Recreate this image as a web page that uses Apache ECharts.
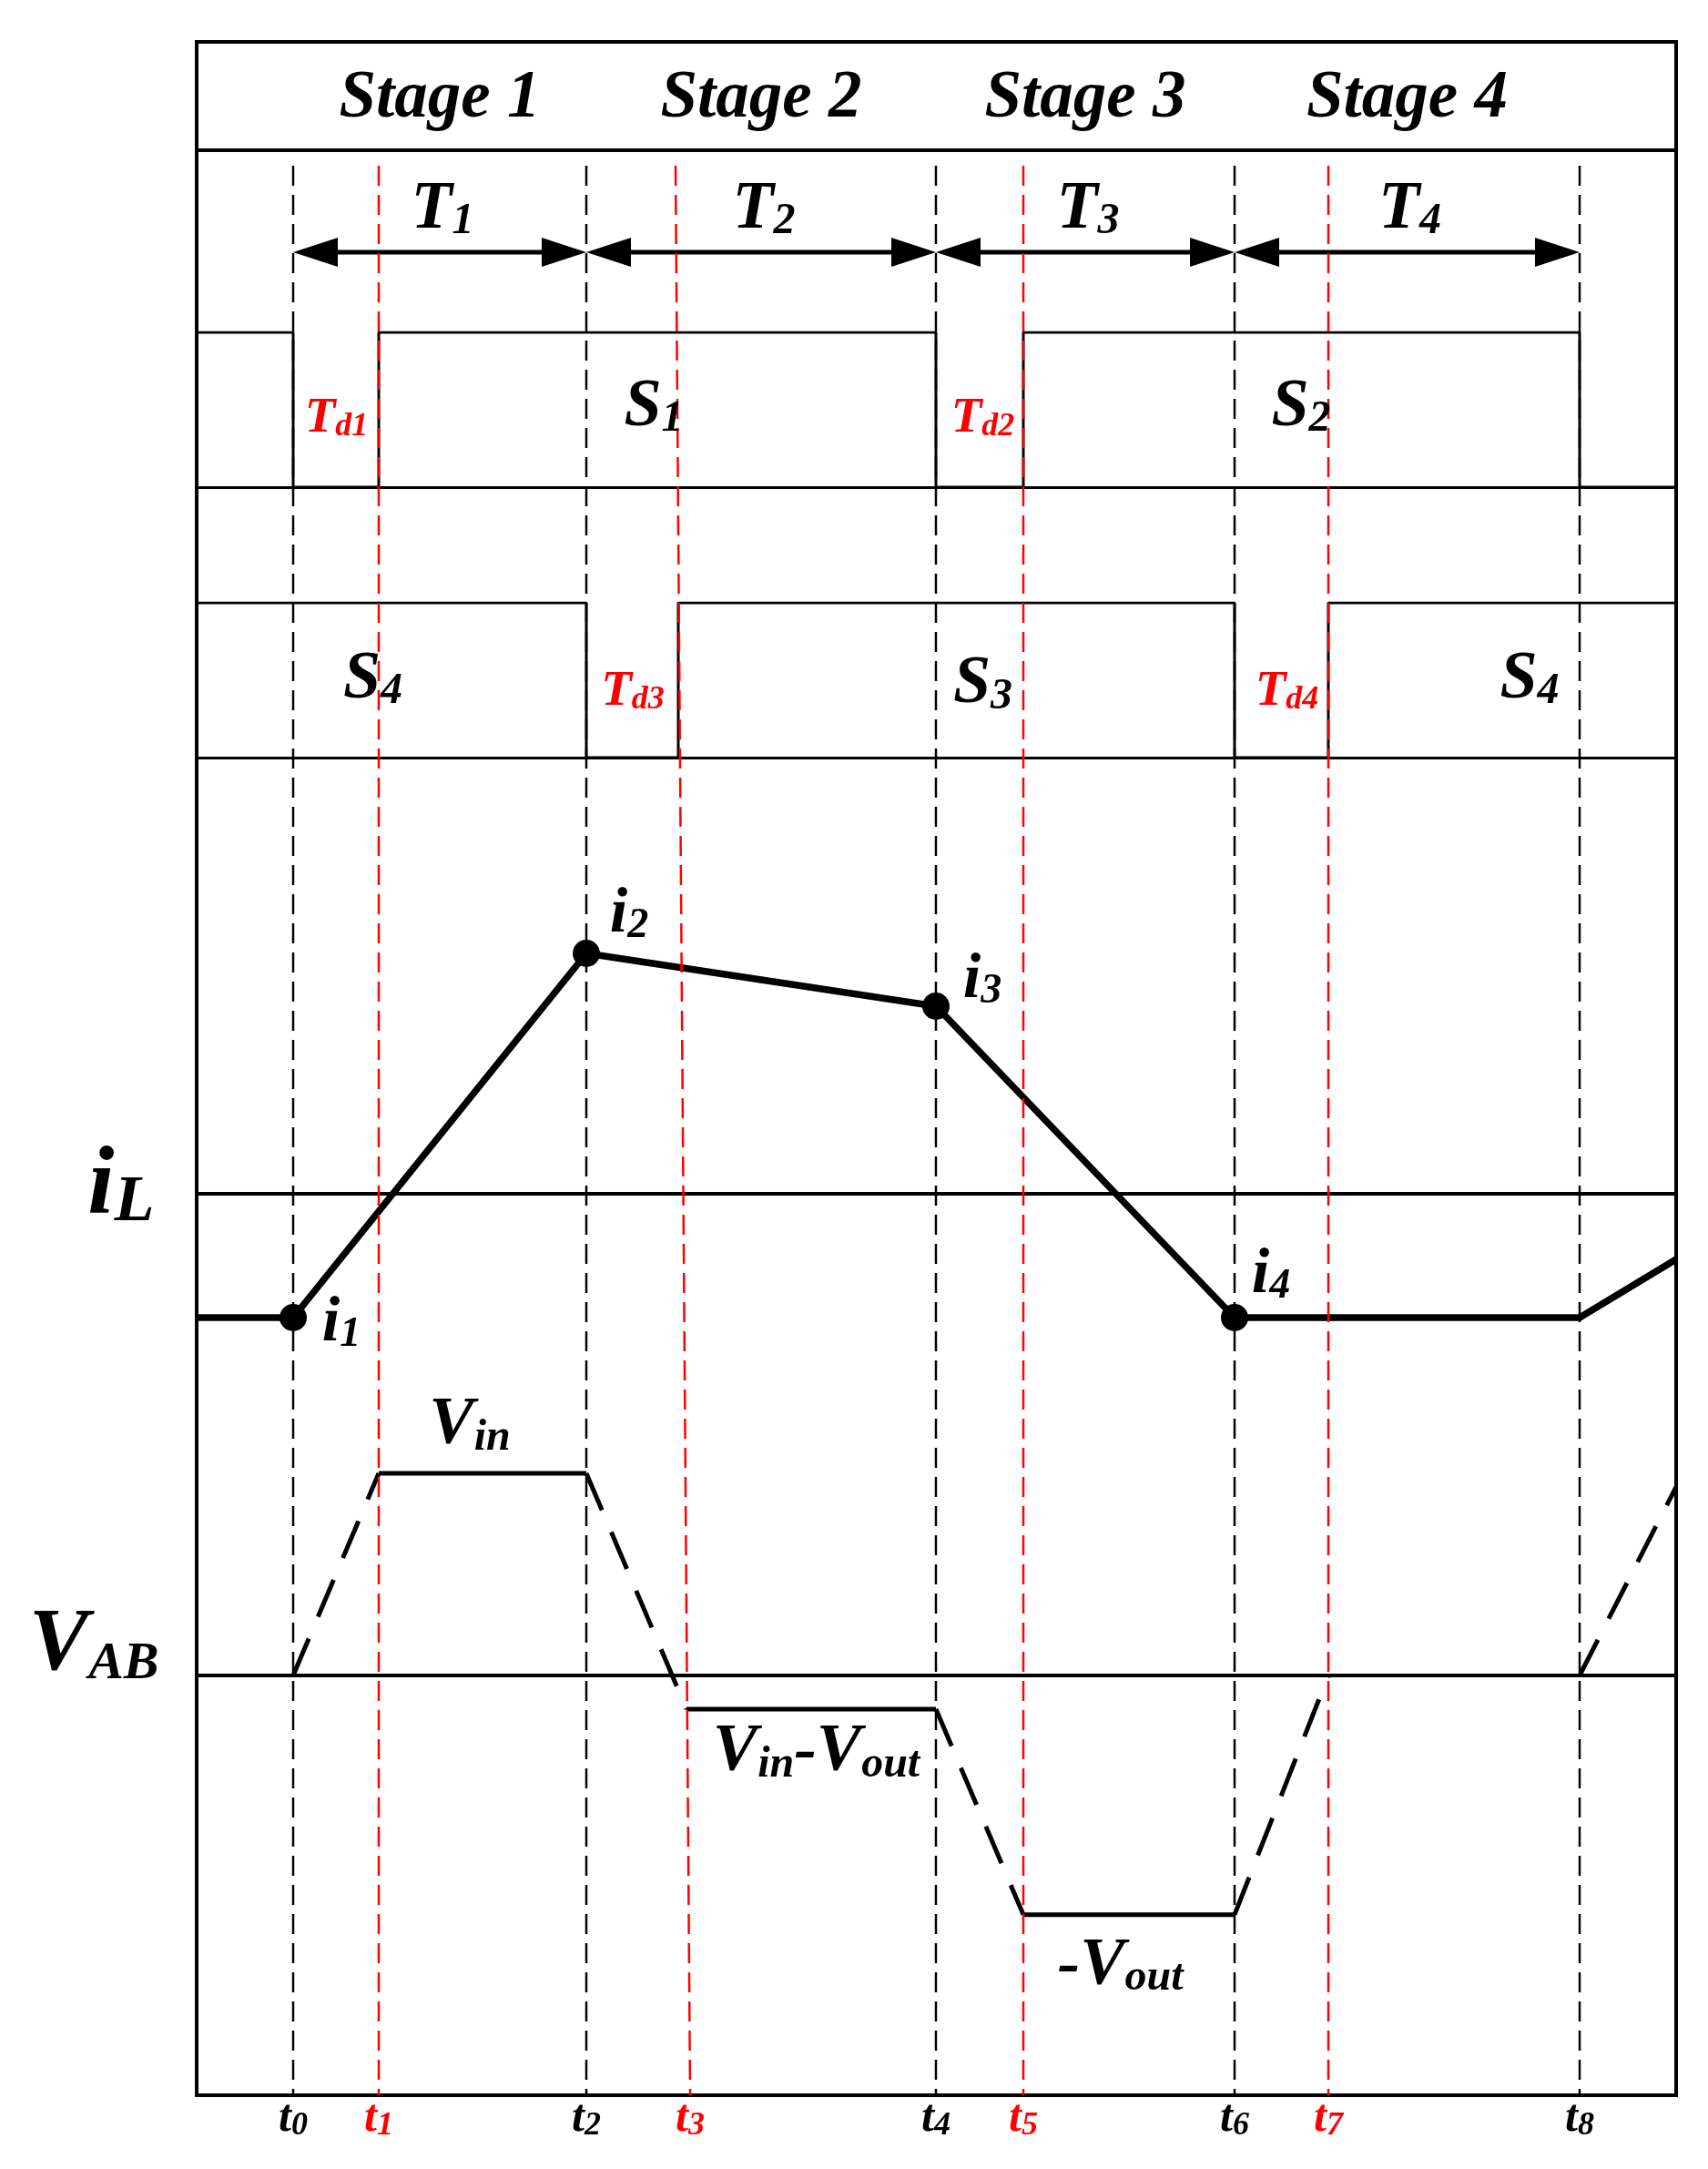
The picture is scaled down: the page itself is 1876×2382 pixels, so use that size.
<!DOCTYPE html>
<html><head><meta charset="utf-8">
<script src="https://cdn.jsdelivr.net/npm/echarts@6/dist/echarts.min.js"></script>
<style>html,body{margin:0;padding:0;background:#fff}#c{width:1876px;height:2382px}</style>
</head><body><div id="c"></div>
<script>
// ---------------- data ----------------
const stageNames = ['Stage 1', 'Stage 2', 'Stage 3', 'Stage 4'];
const periodNames = ['1', '2', '3', '4'];
const periodStart = [0, 32.2, 70.6, 103.4];
const periodEnd = [32.2, 70.6, 103.4, 141.3];
const timeNames = ['0', '1', '2', '3', '4', '5', '6', '7', '8'];
const timeValues = [0, 9.4, 32.2, 43.6, 70.6, 80.2, 103.4, 113.7, 141.3];    // at the bottom edge
const timeValuesTop = [0, 9.4, 32.2, 42.0, 70.6, 80.2, 103.4, 113.7, 141.3]; // at the top (t3 slants)
const timeIsDeadTime = [false, true, false, true, false, true, false, true, false];
const s1Times = [-10.6, 0, 9.4, 70.6, 80.2, 141.3, 151.9];
const s1Levels = [1, 0, 1, 0, 1, 0, 0];
const s4Times = [-10.6, 32.2, 42.3, 103.4, 113.7, 151.9];
const s4Levels = [1, 0, 1, 0, 1, 1];
const iLTimes = [-10.6, 0, 32.2, 70.6, 103.4, 141.3, 151.9];
const iLValues = [-3.4, -3.4, 6.6, 5.15, -3.4, -3.4, -1.8];
const iLPointNames = ['1', '2', '3', '4'];
const vabTimes = [0, 9.4, 32.2, 43.2, 70.6, 80.2, 103.4, 113.7, 141.3, 151.9];
const vabValues = [0, 6.0, 6.0, -1.0, -1.0, -7.1, -7.1, 0, 0, 5.6];
const vabSolidPairs = [[1, 2], [3, 4], [5, 6]];
const vabDashedPairs = [[0, 1], [2, 3], [4, 5], [6, 7], [8, 9]];
// ----------------------------------------------------------------

const X_MIN = -10.6, X_MAX = 151.9;
const FF = "'Liberation Serif','Times New Roman',serif";
const RED = '#ff0000', BLK = '#000000';
const GL = 216, GW = 1625;

function rt(parts, color, M, S, H, h) {
  const fmt = parts.map(p => '{' + (p[1] ? 's' : 'm') + '|' + p[0] + '}').join('');
  const base = {fontFamily: FF, fontWeight: 'bold', fontStyle: 'italic', color: color, verticalAlign: 'bottom', opacity: 1};
  return {show: true, formatter: fmt, opacity: 1, color: color,
    rich: {m: Object.assign({fontSize: M, lineHeight: H}, base),
           s: Object.assign({fontSize: S, lineHeight: h}, base)}};
}
function item(x, y, label, pos, dist) {
  return {value: [x, y], label: Object.assign(label, {position: pos || 'inside', distance: dist || 0})};
}
function textLayer(gi, items) {
  return {type: 'scatter', xAxisIndex: gi, yAxisIndex: gi, symbol: 'circle', symbolSize: 1,
    itemStyle: {color: 'rgba(0,0,0,0)', opacity: 1}, data: items, silent: true, z: 6, clip: false};
}

const grids = [
  {left: GL, width: GW, top: 46, height: 2255, show: true, borderColor: BLK, borderWidth: 4, backgroundColor: 'transparent'},
  {left: GL, width: GW, top: 46, height: 119, show: true, borderColor: BLK, borderWidth: 4, backgroundColor: 'transparent'},
  {left: GL, width: GW, top: 165, height: 112},
  {left: GL, width: GW, top: 365, height: 170},
  {left: GL, width: GW, top: 662, height: 170},
  {left: GL, width: GW, top: 991, height: 520},
  {left: GL, width: GW, top: 1544, height: 629},
  {left: GL, width: GW, top: 182, height: 2119}
];
const yRanges = [[0, 1], [0, 1], [0, 1], [0, 1], [0, 1], [-5, 8], [-9, 8], [0, 1]];
const axisLineW = {3: 3, 4: 3, 5: 4, 6: 4};

const xAxes = grids.map((g, i) => ({
  type: 'value', gridIndex: i, min: X_MIN, max: X_MAX,
  show: axisLineW[i] !== undefined,
  axisLine: {show: true, onZero: true, lineStyle: {color: BLK, width: axisLineW[i] || 1}},
  axisTick: {show: false}, axisLabel: {show: false}, splitLine: {show: false}
}));
const yAxes = grids.map((g, i) => ({
  type: 'value', gridIndex: i, min: yRanges[i][0], max: yRanges[i][1], show: false,
  splitLine: {show: false}
}));

const series = [];

// vertical time markers
timeValues.forEach((t, i) => {
  series.push({type: 'line', xAxisIndex: 7, yAxisIndex: 7, symbol: 'none', silent: true, z: 5,
    data: [[timeValuesTop[i], 1], [t, 0]],
    lineStyle: {color: timeIsDeadTime[i] ? RED : BLK, width: 2.5, type: [22, 10], opacity: 1}});
});
// time labels at the bottom
series.push(textLayer(7, timeValues.map((t, i) =>
  item(t, 0, rt([['t', 0], [timeNames[i], 1]], timeIsDeadTime[i] ? RED : BLK, 50, 36, 50, 21), 'bottom', 1))));

// stage headers
series.push(textLayer(1, stageNames.map((s, i) => ({
  value: [(periodStart[i] + periodEnd[i]) / 2, 0.47],
  label: {show: true, position: 'inside', formatter: s, fontFamily: FF, fontWeight: 'bold', fontStyle: 'italic', fontSize: 73, color: BLK, opacity: 1}
}))));

// period arrows
series.push({type: 'custom', xAxisIndex: 2, yAxisIndex: 2, silent: true, z: 4,
  data: periodStart.map((s, i) => [s, periodEnd[i], 0]),
  encode: {x: [0, 1], y: 2},
  renderItem: function (params, api) {
    const p0 = api.coord([api.value(0), 0]);
    const p1 = api.coord([api.value(1), 0]);
    const L = 49, W = 16;
    return {type: 'group', children: [
      {type: 'line', shape: {x1: p0[0] + L - 2, y1: p0[1], x2: p1[0] - L + 2, y2: p1[1]}, style: {stroke: BLK, lineWidth: 5}},
      {type: 'polygon', shape: {points: [[p0[0], p0[1]], [p0[0] + L, p0[1] - W], [p0[0] + L, p0[1] + W]]}, style: {fill: BLK}},
      {type: 'polygon', shape: {points: [[p1[0], p1[1]], [p1[0] - L, p1[1] - W], [p1[0] - L, p1[1] + W]]}, style: {fill: BLK}}
    ]};
  }});
series.push(textLayer(2, periodNames.map((n, i) =>
  item((periodStart[i] + periodEnd[i]) / 2 + 0.3, 0.41, rt([['T', 0], [n, 1]], BLK, 74, 48, 74, 36)))));

// gate signals
series.push({type: 'line', xAxisIndex: 3, yAxisIndex: 3, step: 'end', symbol: 'none', z: 3,
  data: s1Times.map((t, i) => [t, s1Levels[i]]), lineStyle: {color: BLK, width: 3}});
series.push({type: 'line', xAxisIndex: 4, yAxisIndex: 4, step: 'end', symbol: 'none', z: 3,
  data: s4Times.map((t, i) => [t, s4Levels[i]]), lineStyle: {color: BLK, width: 3}});
series.push(textLayer(3, [
  item(39.6, 0.512, rt([['S', 0], ['1', 1]], BLK, 74, 48, 74, 36)),
  item(110.7, 0.512, rt([['S', 0], ['2', 1]], BLK, 74, 48, 74, 36)),
  item(4.75, 0.445, rt([['T', 0], ['d1', 1]], RED, 55, 36, 55, 24)),
  item(75.75, 0.445, rt([['T', 0], ['d2', 1]], RED, 55, 36, 55, 24))
]));
series.push(textLayer(4, [
  item(8.75, 0.5, rt([['S', 0], ['4', 1]], BLK, 74, 48, 74, 36)),
  item(75.75, 0.47, rt([['S', 0], ['3', 1]], BLK, 74, 48, 74, 36)),
  item(135.8, 0.5, rt([['S', 0], ['4', 1]], BLK, 74, 48, 74, 36)),
  item(37.3, 0.427, rt([['T', 0], ['d3', 1]], RED, 55, 36, 55, 24)),
  item(109.15, 0.427, rt([['T', 0], ['d4', 1]], RED, 55, 36, 55, 24))
]));

// inductor current
series.push({type: 'line', xAxisIndex: 5, yAxisIndex: 5, symbol: 'none', z: 3,
  data: iLTimes.map((t, i) => [t, iLValues[i]]), lineStyle: {color: BLK, width: 7.5, join: 'round', opacity: 1}});
series.push({type: 'scatter', xAxisIndex: 5, yAxisIndex: 5, symbol: 'circle', symbolSize: 30, z: 4, silent: true,
  itemStyle: {color: BLK, opacity: 1}, data: iLPointNames.map((n, i) => [iLTimes[i + 1], iLValues[i + 1]])});
series.push(textLayer(5, [
  item(5.3, -3.585, rt([['i', 0], [iLPointNames[0], 1]], BLK, 70, 46, 70, 30)),
  item(36.9, 7.65, rt([['i', 0], [iLPointNames[1], 1]], BLK, 70, 46, 70, 30)),
  item(75.7, 5.84, rt([['i', 0], [iLPointNames[2], 1]], BLK, 70, 46, 70, 30)),
  item(107.4, -2.25, rt([['i', 0], [iLPointNames[3], 1]], BLK, 70, 46, 70, 30)),
  item(X_MIN, 0.16, rt([['i', 0], ['L', 1]], BLK, 105, 72, 105, 55), 'left', 46)
]));

// bridge voltage
vabSolidPairs.forEach(p => {
  series.push({type: 'line', xAxisIndex: 6, yAxisIndex: 6, symbol: 'none', z: 3,
    data: p.map(k => [vabTimes[k], vabValues[k]]), lineStyle: {color: BLK, width: 5, opacity: 1}});
});
vabDashedPairs.forEach(p => {
  series.push({type: 'line', xAxisIndex: 6, yAxisIndex: 6, symbol: 'none', z: 3,
    data: p.map(k => [vabTimes[k], vabValues[k]]), lineStyle: {color: BLK, width: 5, type: [44, 26], opacity: 1}});
});
series.push(textLayer(6, [
  item(19.4, 7.4, rt([['V', 0], ['in', 1]], BLK, 74, 48, 74, 36)),
  item(57.45, -2.3, rt([['V', 0], ['in', 1], ['-V', 0], ['out', 1]], BLK, 74, 48, 74, 36)),
  item(90.85, -8.65, rt([['-V', 0], ['out', 1]], BLK, 74, 48, 74, 36)),
  item(X_MIN, 0.86, rt([['V', 0], ['AB', 1]], BLK, 98, 58, 98, 43), 'left', 41)
]));

const chart = echarts.init(document.getElementById('c'), null, {renderer: 'canvas'});
chart.setOption({
  animation: false,
  backgroundColor: '#ffffff',
  grid: grids,
  xAxis: xAxes,
  yAxis: yAxes,
  series: series
});
</script>
</body></html>
